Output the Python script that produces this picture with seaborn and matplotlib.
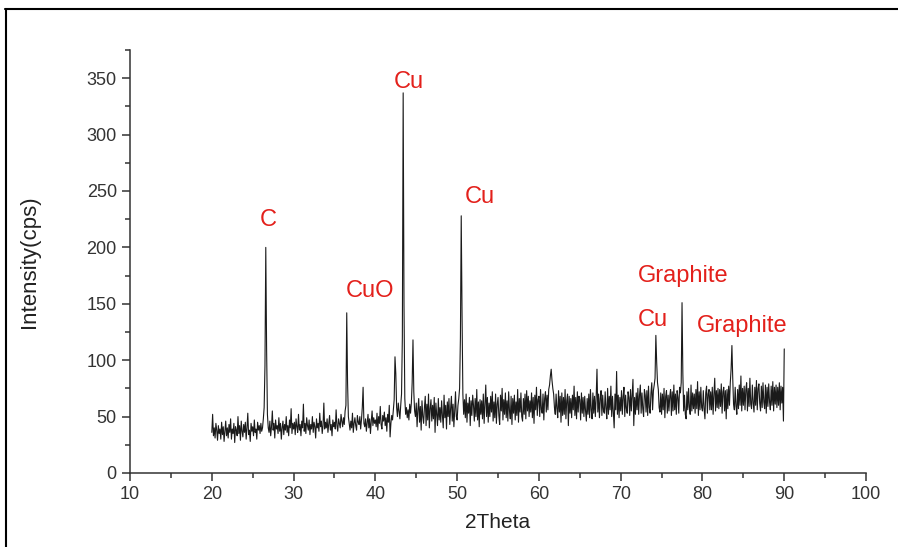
import numpy as np
import pandas as pd
import matplotlib.pyplot as plt
import seaborn as sns
from matplotlib.lines import Line2D
from matplotlib.ticker import MultipleLocator

# XRD counts, one row per degree (step 0.1)
counts_20s = [
    36, 52, 33, 40, 31, 44, 38, 29, 42, 35,
    39, 30, 45, 34, 41, 28, 37, 46, 33, 40,
    31, 43, 36, 48, 30, 39, 35, 44, 27, 41,
    38, 33, 50, 35, 42, 29, 46, 37, 32, 43,
    36, 45, 30, 40, 53, 34, 38, 28, 44, 37,
    41, 33, 47, 36, 39, 30, 45, 38, 42, 35,
    44, 37, 40, 48, 58, 95, 200, 110, 52, 40,
    36, 46, 33, 41, 55, 38, 44, 31, 47, 39,
    42, 35, 49, 37, 44, 30, 40, 46, 34, 43,
    38, 50, 36, 42, 33, 47, 40, 57, 35, 44,
]
counts_30s = [
    39, 45, 34, 48, 41, 36, 52, 38, 43, 33,
    46, 40, 61, 37, 44, 35, 49, 42, 38, 47,
    34, 43, 39, 50, 36, 45, 41, 31, 48, 40,
    44, 37, 53, 41, 46, 35, 42, 62, 39, 45,
    40, 48, 36, 44, 51, 38, 43, 33, 47, 41,
    45, 39, 56, 42, 37, 48, 44, 40, 52, 46,
    41, 49, 43, 55, 60, 142, 80, 50, 44, 38,
    46, 40, 53, 36, 44, 49, 42, 38, 51, 45,
    43, 50, 39, 47, 58, 76, 44, 41, 48, 37,
    45, 52, 40, 48, 35, 46, 55, 42, 49, 44,
]
counts_40s = [
    47, 41, 53, 38, 50, 44, 59, 43, 39, 51,
    46, 54, 42, 49, 37, 52, 45, 60, 32, 44,
    51, 47, 56, 65, 103, 88, 58, 50, 62, 55,
    48, 60, 70, 120, 337, 150, 66, 52, 58, 49,
    56, 47, 61, 53, 62, 80, 118, 72, 55, 50,
    62, 41, 56, 66, 45, 59, 38, 64, 50, 44,
    58, 68, 42, 61, 47, 70, 40, 57, 65, 46,
    60, 48, 67, 36, 62, 52, 42, 66, 47, 58,
    45, 64, 51, 40, 69, 49, 60, 39, 63, 50,
    66, 43, 57, 68, 46, 61, 41, 55, 72, 50,
]
counts_50s = [
    47, 60, 66, 75, 120, 228, 140, 70, 52, 65,
    49, 70, 45, 62, 53, 67, 42, 64, 51, 69,
    60, 46, 66, 50, 74, 47, 63, 41, 65, 52,
    64, 48, 70, 44, 61, 78, 50, 67, 45, 62,
    50, 68, 54, 72, 46, 63, 49, 70, 44, 61,
    67, 51, 43, 69, 55, 75, 47, 65, 52, 71,
    49, 64, 46, 72, 55, 48, 68, 43, 66, 53,
    69, 47, 63, 51, 74, 45, 66, 54, 71, 50,
    46, 66, 52, 70, 48, 73, 55, 68, 50, 64,
    54, 71, 49, 67, 44, 69, 56, 76, 51, 65,
]
counts_60s = [
    68, 50, 74, 56, 53, 70, 47, 66, 72, 54,
    69, 56, 74, 78, 86, 92, 82, 75, 70, 58,
    52, 70, 57, 49, 73, 54, 68, 45, 71, 51,
    67, 52, 74, 48, 64, 70, 42, 68, 53, 66,
    49, 69, 56, 77, 51, 67, 48, 72, 54, 68,
    65, 47, 71, 53, 67, 50, 68, 55, 46, 66,
    52, 70, 49, 74, 56, 48, 71, 53, 68, 50,
    67, 92, 54, 70, 49, 66, 73, 51, 69, 55,
    53, 72, 57, 48, 75, 52, 68, 56, 77, 50,
    68, 54, 40, 70, 56, 90, 52, 69, 49, 67,
]
counts_70s = [
    55, 73, 52, 68, 76, 50, 69, 57, 53, 72,
    67, 51, 74, 55, 69, 83, 42, 67, 52, 71,
    56, 75, 52, 69, 78, 53, 71, 57, 50, 74,
    69, 54, 73, 51, 77, 58, 53, 71, 80, 56,
    73, 78, 84, 122, 98, 80, 74, 58, 54, 71,
    52, 70, 56, 75, 49, 68, 73, 53, 69, 55,
    68, 74, 51, 72, 55, 78, 56, 70, 52, 73,
    67, 53, 76, 71, 80, 151, 88, 55, 69, 52,
    48, 72, 56, 75, 58, 52, 78, 55, 71, 57,
    70, 53, 74, 57, 81, 51, 72, 56, 76, 58,
]
counts_80s = [
    55, 73, 57, 48, 71, 77, 53, 70, 74, 56,
    72, 56, 76, 52, 70, 84, 55, 73, 58, 75,
    57, 74, 59, 79, 53, 72, 76, 55, 73, 48,
    74, 57, 77, 60, 80, 92, 113, 84, 61, 56,
    76, 59, 52, 74, 57, 78, 60, 86, 55, 75,
    60, 77, 56, 74, 80, 55, 75, 59, 84, 61,
    57, 78, 62, 54, 76, 60, 82, 56, 75, 79,
    62, 55, 77, 58, 80, 63, 57, 78, 53, 76,
    59, 79, 63, 56, 77, 60, 81, 55, 76, 61,
    78, 58, 76, 60, 80, 56, 77, 62, 76, 46,
]
count_90 = [110]

two_theta = np.round(np.linspace(20, 90, 701), 1)
intensity = np.concatenate([counts_20s, counts_30s, counts_40s, counts_50s,
                            counts_60s, counts_70s, counts_80s, count_90])

peak_labels = ['C', 'CuO', 'Cu', 'Cu', 'Graphite', 'Cu', 'Graphite']
label_x = [26.9, 39.3, 44.1, 52.8, 77.7, 73.9, 84.9]
label_y = [224, 161, 347, 245, 175, 136, 130]

df = pd.DataFrame({'2Theta': two_theta, 'Intensity': intensity})

sns.set_style('ticks')
plt.rcParams['font.family'] = ['Liberation Sans', 'DejaVu Sans']

fig = plt.figure(figsize=(8.98, 5.47), dpi=100)
ax = fig.add_axes([0.1448, 0.1353, 0.8196, 0.7733])
sns.lineplot(data=df, x='2Theta', y='Intensity', color='#1a1a1a', lw=0.8, ax=ax)

for txt, x, y in zip(peak_labels, label_x, label_y):
    ax.text(x, y, txt, color='#e3201b', fontsize=17, ha='center', va='center')

ax.set_xlim(10, 100)
ax.set_ylim(0, 375)
ax.xaxis.set_major_locator(MultipleLocator(10))
ax.xaxis.set_minor_locator(MultipleLocator(5))
ax.yaxis.set_major_locator(MultipleLocator(50))
ax.yaxis.set_minor_locator(MultipleLocator(25))
ax.tick_params(which='major', length=6, width=1.1, colors='#333333', labelsize=13)
ax.tick_params(which='minor', length=3.5, width=1.1, colors='#333333')
for side in ['top', 'right']:
    ax.spines[side].set_visible(False)
for side in ['left', 'bottom']:
    ax.spines[side].set_color('#333333')
    ax.spines[side].set_linewidth(1.1)

ax.set_xlabel('2Theta', fontsize=15, color='#222222', labelpad=7)
ax.set_ylabel('Intensity(cps)', fontsize=16, color='#222222')
ax.yaxis.set_label_coords(-0.122, 0.5)

# outer frame (top and left edges)
fig.add_artist(Line2D([0.006, 1.0], [0.9835, 0.9835], color='black', lw=1.5))
fig.add_artist(Line2D([0.007, 0.007], [0.0, 0.9835], color='black', lw=1.5))

plt.savefig('out.png', dpi=100)
